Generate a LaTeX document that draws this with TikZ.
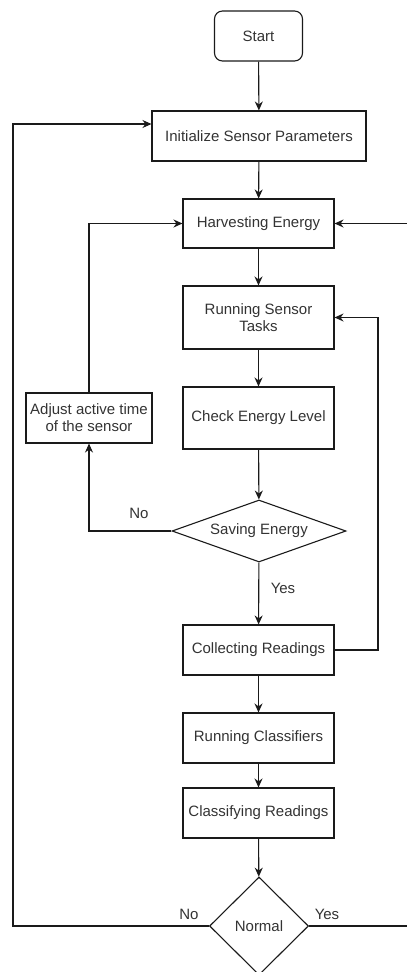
\documentclass[tikz,border=0pt]{standalone}
\usepackage{fontspec}
\setmainfont{Liberation Sans}
\usetikzlibrary{shapes.geometric,arrows.meta,calc}
\definecolor{txt}{HTML}{333333}
\definecolor{ln}{HTML}{1A1A1A}
\begin{document}
\begin{tikzpicture}[x=1pt,y=-1pt,
  font=\fontsize{15}{17}\selectfont,
  every node/.style={text=txt},
  box/.style={draw=ln,line width=1.1pt,rectangle,minimum width=151pt,minimum height=50pt,inner sep=2pt,align=center},
  dec/.style={draw=ln,line width=1.1pt,diamond,inner sep=0pt,align=center},
  conn/.style={draw=ln,line width=1.1pt,-{Stealth[length=9pt,width=8pt]}},
  plain/.style={draw=ln,line width=1.1pt}]
\clip (0,0) rectangle (407,972);
\node[box,rounded corners=8pt,minimum width=88pt] (start) at (258.5,36) {Start};
\node[box,minimum width=214pt] (init) at (259,136) {Initialize Sensor Parameters};
\node[box,minimum height=49pt] (harv) at (258.5,223.5) {Harvesting Energy};
\node[box,minimum height=63pt] (run) at (258.5,317.5) {Running Sensor\\Tasks};
\node[box,minimum height=62pt] (check) at (258.5,418) {Check Energy Level};
\node[box,minimum width=126pt] (adjust) at (89,418) {Adjust active time\\of the sensor};
\node[dec,aspect=2.8,minimum width=174pt,minimum height=62pt] (save) at (259,531) {Saving Energy};
\node[box] (coll) at (258.5,650) {Collecting Readings};
\node[box] (rcl) at (258.5,738) {Running Classifiers};
\node[box] (cls) at (258.5,813) {Classifying Readings};
\node[dec,aspect=1,minimum width=99pt,minimum height=98pt] (normal) at (259,926) {Normal};
\node (no1) at (139,513) {No};
\node (yes1) at (283,588) {Yes};
\node (no2) at (189,914) {No};
\node (yes2) at (327,914) {Yes};
\coordinate (initin) at ([yshift=12pt]init.west);
\coordinate (lx) at (13,926);
\coordinate (rx) at (412,926);
\coordinate (cr) at (378,650);
\draw[conn] (start) -- (init);
\draw[conn] (init) -- (harv);
\draw[conn] (harv) -- (run);
\draw[conn] (run) -- (check);
\draw[conn] (check) -- (save);
\draw[conn] (save) -- (coll);
\draw[conn] (coll) -- (rcl);
\draw[conn] (rcl) -- (cls);
\draw[conn] (cls) -- (normal);
\draw[conn] (save.west) -| (adjust.south);
\draw[conn] (adjust.north) |- (harv.west);
\draw[conn] (coll.east) -- (cr) |- (run.east);
\draw[conn] (normal.west) -- (lx) |- (initin);
\draw[conn] (normal.east) -- (rx) |- (harv.east);
\end{tikzpicture}
\end{document}
